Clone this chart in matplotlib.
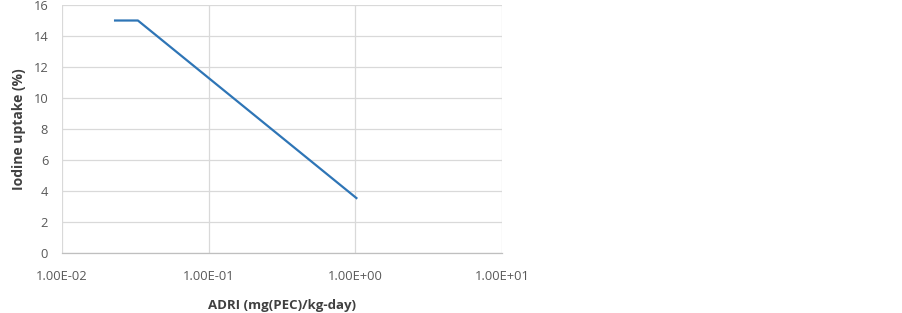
import matplotlib
matplotlib.use("Agg")
import matplotlib.pyplot as plt
from matplotlib.ticker import FuncFormatter, FixedLocator

# data
adri = [0.0226, 0.0329, 1.03]
uptake = [15.0, 15.0, 3.5]
x_ticks = [0.01, 0.1, 1.0, 10.0]
y_ticks = [0, 2, 4, 6, 8, 10, 12, 14, 16]

plt.rcParams['font.family'] = ['Open Sans', 'DejaVu Sans']

fig = plt.figure(figsize=(9.03, 3.13), dpi=100)
ax = fig.add_axes([0.0687, 0.1917, 0.4873, 0.7923])

ax.plot(adri, uptake, color='#2e75b6', linewidth=1.6, solid_capstyle='butt')

ax.set_xscale('log')
ax.set_xlim(0.01, 10)
ax.set_ylim(0, 16)
ax.xaxis.set_major_locator(FixedLocator(x_ticks))
ax.xaxis.set_minor_locator(FixedLocator([]))
ax.xaxis.set_major_formatter(FuncFormatter(lambda v, p: f"{v:.2E}"))
ax.set_yticks(y_ticks)

ax.grid(True, color='#d9d9d9', linewidth=0.9)
ax.set_axisbelow(True)
for s in ['top', 'right', 'left']:
    ax.spines[s].set_visible(False)
ax.spines['bottom'].set_color('#bfbfbf')
ax.spines['bottom'].set_linewidth(0.9)

ax.tick_params(axis='both', length=0, labelsize=9.3, labelcolor='#595959')
ax.tick_params(axis='x', pad=12)
ax.tick_params(axis='y', pad=10)

ax.set_xlabel('ADRI (mg(PEC)/kg-day)', fontsize=9.5, fontweight='bold', color='#404040', labelpad=12)
ax.set_ylabel('Iodine uptake (%)', fontsize=10, fontweight='bold', color='#404040', labelpad=5)

fig.savefig('out.png', dpi=100)
